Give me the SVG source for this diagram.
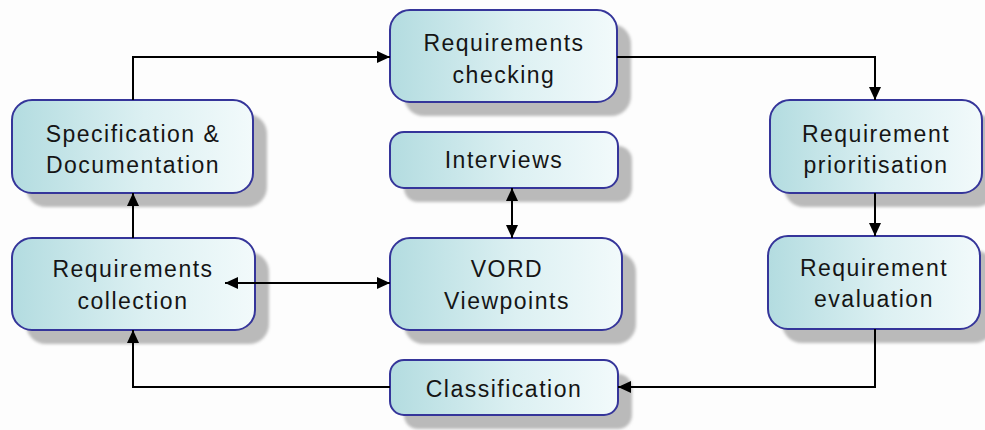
<svg xmlns="http://www.w3.org/2000/svg" width="985" height="430" viewBox="0 0 985 430">
<defs>
<linearGradient id="fillg" x1="0" y1="0" x2="1" y2="0">
<stop offset="0" stop-color="#b3dce0"/>
<stop offset="0.55" stop-color="#dcf0f2"/>
<stop offset="1" stop-color="#f2fafb"/>
</linearGradient>
<filter id="blur" x="-10%" y="-10%" width="120%" height="120%"><feGaussianBlur stdDeviation="1.5"/></filter>
<marker id="arr" viewBox="0 0 13 12" refX="13" refY="6" markerWidth="13" markerHeight="12" markerUnits="userSpaceOnUse" orient="auto-start-reverse">
<path d="M0,0 L13,6 L0,12 Z" fill="#000"/>
</marker>
</defs>
<style>
.sh{fill:#bababa;filter:url(#blur)}
.box{fill:url(#fillg);stroke:#35359a;stroke-width:2}
.lbl{font-family:"Liberation Sans",Arial,sans-serif;font-size:23px;letter-spacing:1.5px;fill:#151515;text-anchor:middle}
.con{fill:none;stroke:#000;stroke-width:2}
</style>
<rect width="985" height="430" fill="#fdfdfd"/>
<g id="spec">
<rect class="sh" x="26" y="114" width="241" height="93" rx="20"/>
<rect class="box" x="12" y="100" width="241" height="93" rx="20"/>
<text class="lbl" x="133" y="142">Specification &amp;</text>
<text class="lbl" x="133" y="173">Documentation</text>
</g>
<g id="checking">
<rect class="sh" x="404" y="24" width="227" height="92" rx="20"/>
<rect class="box" x="390" y="10" width="227" height="92" rx="20"/>
<text class="lbl" x="504" y="51">Requirements</text>
<text class="lbl" x="504" y="83">checking</text>
</g>
<g id="interviews">
<rect class="sh" x="404" y="146" width="228" height="56" rx="14"/>
<rect class="box" x="390" y="132" width="228" height="56" rx="14"/>
<text class="lbl" x="504" y="168">Interviews</text>
</g>
<g id="prioritisation">
<rect class="sh" x="784" y="114" width="212" height="93" rx="20"/>
<rect class="box" x="770" y="100" width="212" height="93" rx="20"/>
<text class="lbl" x="876" y="142">Requirement</text>
<text class="lbl" x="876" y="173">prioritisation</text>
</g>
<g id="collection">
<rect class="sh" x="26" y="252" width="243" height="92" rx="20"/>
<rect class="box" x="12" y="238" width="243" height="92" rx="20"/>
<text class="lbl" x="133" y="277">Requirements</text>
<text class="lbl" x="133" y="309">collection</text>
</g>
<g id="vord">
<rect class="sh" x="404" y="252" width="232" height="92" rx="20"/>
<rect class="box" x="390" y="238" width="232" height="92" rx="20"/>
<text class="lbl" x="507" y="277">VORD</text>
<text class="lbl" x="507" y="309">Viewpoints</text>
</g>
<g id="evaluation">
<rect class="sh" x="782" y="250" width="212" height="93" rx="20"/>
<rect class="box" x="768" y="236" width="212" height="93" rx="20"/>
<text class="lbl" x="874" y="276">Requirement</text>
<text class="lbl" x="874" y="307">evaluation</text>
</g>
<g id="classification">
<rect class="sh" x="404" y="374" width="228" height="55" rx="14"/>
<rect class="box" x="390" y="360" width="228" height="55" rx="14"/>
<text class="lbl" x="504" y="397">Classification</text>
</g>
<g id="connectors">
<path class="con" d="M133,100 V57 H390" marker-end="url(#arr)"/>
<path class="con" d="M617,57 H875 V100" marker-end="url(#arr)"/>
<path class="con" d="M875,193 V236" marker-end="url(#arr)"/>
<path class="con" d="M875,329 V387 H618" marker-end="url(#arr)"/>
<path class="con" d="M390,387 H133 V330" marker-end="url(#arr)"/>
<path class="con" d="M133,238 V193" marker-end="url(#arr)"/>
<path class="con" d="M225,283 H390" marker-start="url(#arr)" marker-end="url(#arr)"/>
<path class="con" d="M512,188 V238" marker-start="url(#arr)" marker-end="url(#arr)"/>
</g>
</svg>
